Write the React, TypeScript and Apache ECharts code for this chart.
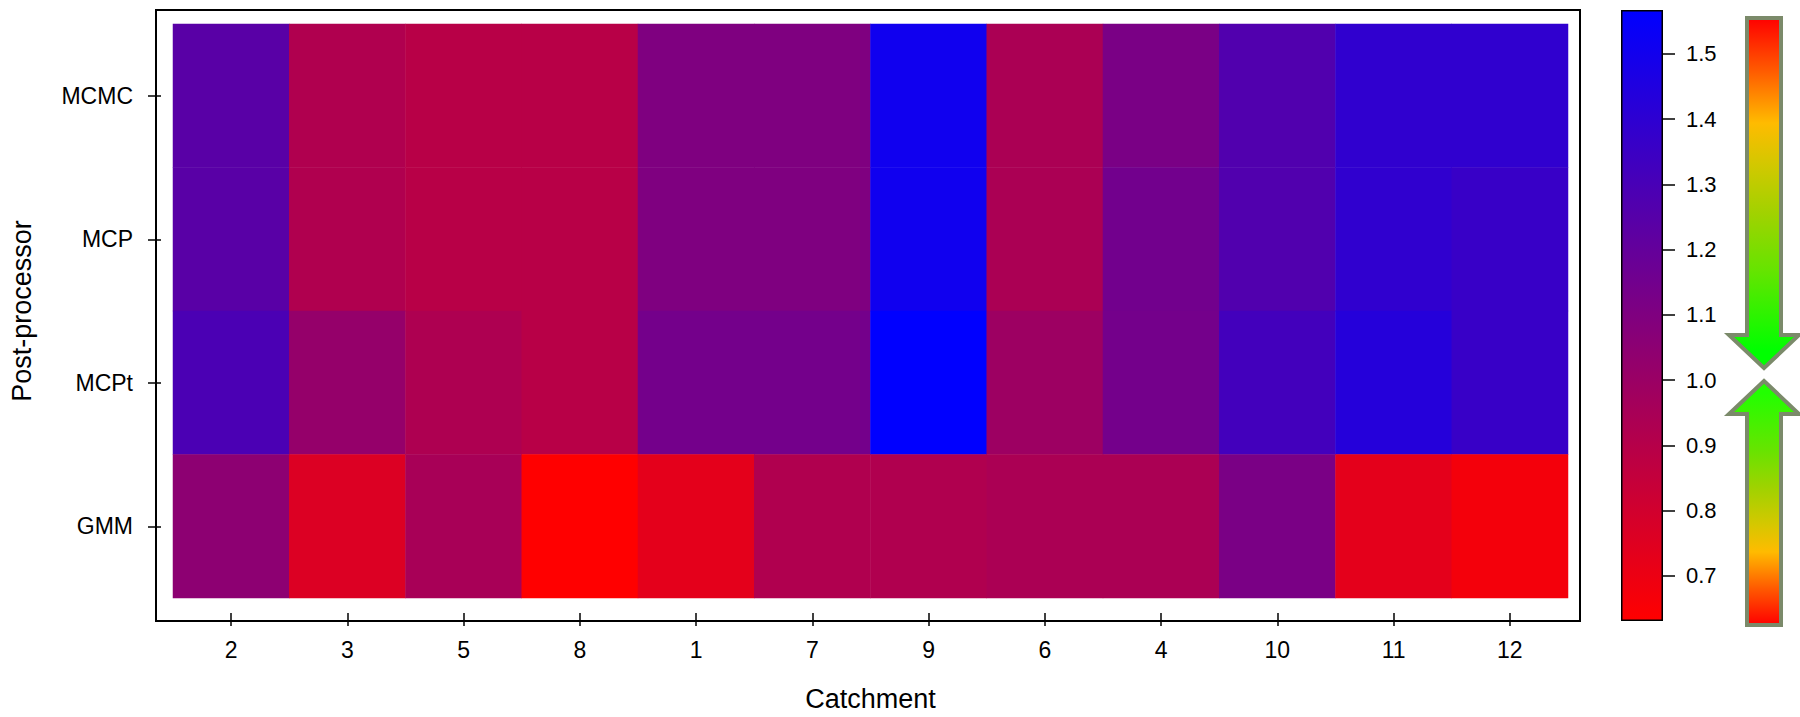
import React, { useEffect, useRef } from "react";
import * as echarts from "echarts";

const catchments = ["2", "3", "5", "8", "1", "7", "9", "6", "4", "10", "11", "12"];
const postProcessors = ["MCMC", "MCP", "MCPt", "GMM"];
const mcmcValues = [1.24, 0.92, 0.89, 0.89, 1.1, 1.1, 1.51, 0.94, 1.12, 1.27, 1.39, 1.39];
const mcpValues = [1.24, 0.92, 0.89, 0.89, 1.1, 1.1, 1.51, 0.94, 1.15, 1.27, 1.39, 1.36];
const mcptValues = [1.29, 1.02, 0.93, 0.89, 1.14, 1.14, 1.567, 0.99, 1.14, 1.32, 1.43, 1.36];
const gmmValues = [1.05, 0.76, 0.95, 0.631, 0.73, 0.92, 0.92, 0.94, 0.94, 1.12, 0.73, 0.67];
const colorbarTicks = [0.7, 0.8, 0.9, 1.0, 1.1, 1.2, 1.3, 1.4, 1.5];

const FONT = "'Liberation Sans', Arial, Helvetica, sans-serif";

export default function App() {
  const ref = useRef<HTMLDivElement>(null);
  useEffect(() => {
    document.body.style.margin = "0";
    const chart = echarts.init(ref.current!, null, { renderer: "svg" });
    const rows = [mcmcValues, mcpValues, mcptValues, gmmValues];
    const yCats = [...postProcessors].reverse();
    const data: [number, number, number][] = [];
    rows.forEach((vals, r) => {
      vals.forEach((v, c) => {
        data.push([c, yCats.indexOf(postProcessors[r]), v]);
      });
    });
    const all = rows.flat();
    const vmin = Math.min(...all);
    const vmax = Math.max(...all);

    const stops = [
      { offset: 0, color: "#ff0000" },
      { offset: 0.15, color: "#ff5a00" },
      { offset: 0.3, color: "#ffbb00" },
      { offset: 0.42, color: "#d2c800" },
      { offset: 0.56, color: "#a0d200" },
      { offset: 0.72, color: "#66e400" },
      { offset: 0.95, color: "#00ff00" },
    ];
    const topArrowGrad = new echarts.graphic.LinearGradient(0, 0, 0, 1, stops);
    const botArrowGrad = new echarts.graphic.LinearGradient(
      0, 1, 0, 0,
      stops.map((s, i) => (i === stops.length - 1 ? { offset: s.offset, color: "#22ff00" } : s))
    );
    const arrowStroke = "#7b8a6a";

    chart.setOption({
      animation: false,
      backgroundColor: "#ffffff",
      grid: [
        { left: 168, top: 24, width: 1400, height: 582 },
        { left: 1621, top: 10, width: 42, height: 611 },
      ],
      xAxis: [
        {
          type: "category",
          gridIndex: 0,
          data: catchments,
          position: "bottom",
          offset: 15,
          axisLine: { show: false },
          axisTick: { show: true, alignWithLabel: true, length: 13, lineStyle: { color: "#000", width: 1.5 } },
          axisLabel: { fontSize: 23, color: "#000", fontFamily: FONT, margin: 25 },
          splitLine: { show: false },
          name: "Catchment",
          nameLocation: "middle",
          nameGap: 72,
          nameTextStyle: { fontSize: 27, color: "#000", fontFamily: FONT },
        },
        {
          type: "category",
          gridIndex: 1,
          data: ["bar"],
          show: false,
        },
      ],
      yAxis: [
        {
          type: "category",
          gridIndex: 0,
          data: yCats,
          offset: 12,
          axisLine: { show: false },
          axisTick: { show: true, alignWithLabel: true, length: 13, lineStyle: { color: "#000", width: 1.5 } },
          axisLabel: { fontSize: 23, color: "#000", fontFamily: FONT, margin: 28 },
          splitLine: { show: false },
          name: "Post-processor",
          nameLocation: "middle",
          nameGap: 126,
          nameTextStyle: { fontSize: 27, color: "#000", fontFamily: FONT },
        },
        {
          type: "value",
          gridIndex: 1,
          position: "right",
          min: vmin,
          max: vmax,
          axisLine: { show: false },
          axisTick: { show: true, length: 12, customValues: colorbarTicks, lineStyle: { color: "#000", width: 1.5 } },
          axisLabel: {
            show: true,
            customValues: colorbarTicks,
            formatter: (v: number) => v.toFixed(1),
            fontSize: 22,
            color: "#000",
            fontFamily: FONT,
            margin: 23,
          },
          splitLine: { show: false },
        },
      ],
      visualMap: {
        show: false,
        type: "continuous",
        seriesIndex: 0,
        dimension: 2,
        min: vmin,
        max: vmax,
        inRange: { color: ["#ff0000", "#0000ff"] },
      },
      series: [
        {
          type: "heatmap",
          xAxisIndex: 0,
          yAxisIndex: 0,
          data,
          itemStyle: { borderWidth: 0 },
          emphasis: { disabled: true },
        },
        {
          type: "bar",
          xAxisIndex: 1,
          yAxisIndex: 1,
          stack: "cb",
          data: [vmin],
          barWidth: "100%",
          itemStyle: { color: "transparent" },
          silent: true,
        },
        {
          type: "bar",
          xAxisIndex: 1,
          yAxisIndex: 1,
          stack: "cb",
          data: [vmax - vmin],
          barWidth: "100%",
          itemStyle: {
            color: new echarts.graphic.LinearGradient(0, 0, 0, 1, [
              { offset: 0, color: "#0000ff" },
              { offset: 1, color: "#ff0000" },
            ]),
            borderColor: "#000",
            borderWidth: 1.5,
          },
          silent: true,
        },
      ],
      graphic: [
        {
          type: "rect",
          shape: { x: 156, y: 10, width: 1424, height: 611 },
          style: { fill: "none", stroke: "#000", lineWidth: 2 },
          silent: true,
        },
        {
          type: "polygon",
          shape: {
            points: [
              [1747, 18],
              [1781, 18],
              [1781, 335],
              [1799, 335],
              [1764, 368],
              [1729, 335],
              [1747, 335],
            ],
          },
          style: { fill: topArrowGrad, stroke: arrowStroke, lineWidth: 4 },
          silent: true,
        },
        {
          type: "polygon",
          shape: {
            points: [
              [1764, 381],
              [1799, 414],
              [1781, 414],
              [1781, 625],
              [1747, 625],
              [1747, 414],
              [1729, 414],
            ],
          },
          style: { fill: botArrowGrad, stroke: arrowStroke, lineWidth: 4 },
          silent: true,
        },
      ],
    });
    return () => chart.dispose();
  }, []);
  return <div ref={ref} style={{ width: 1800, height: 717 }} />;
}
